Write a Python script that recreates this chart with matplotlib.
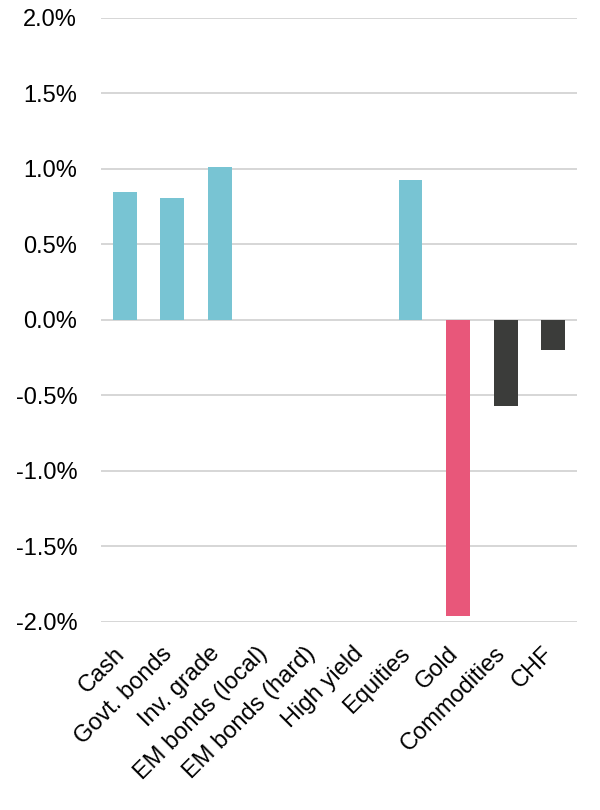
import numpy as np
from matplotlib import pyplot as plt
from matplotlib import transforms
from matplotlib.ticker import FuncFormatter

plt.rcParams['font.family'] = ['Liberation Sans', 'DejaVu Sans']

categories = ['Cash', 'Govt. bonds', 'Inv. grade', 'EM bonds (local)',
              'EM bonds (hard)', 'High yield', 'Equities', 'Gold',
              'Commodities', 'CHF']
values = [0.85, 0.81, 1.01, 0.0, 0.0, 0.0, 0.93, -1.96, -0.57, -0.20]
groups = ['pos', 'pos', 'pos', 'pos', 'pos', 'pos', 'pos', 'gold', 'neg', 'neg']
y_ticks = [-2.0, -1.5, -1.0, -0.5, 0.0, 0.5, 1.0, 1.5, 2.0]

colors = {'pos': '#78C4D3', 'gold': '#E8577A', 'neg': '#3B3C3A'}

fig = plt.figure(figsize=(6, 8.1), dpi=100)
ax = fig.add_axes([0.168, 0.2321, 0.794, 0.7457])

x = np.arange(len(categories))
ax.bar(x, values, width=0.5, color=[colors[g] for g in groups], zorder=3)

ax.set_xlim(-0.5, len(categories) - 0.5)
ax.set_ylim(-2.0, 2.0)
ax.set_yticks(y_ticks)
ax.yaxis.set_major_formatter(FuncFormatter(lambda v, p: f'{v:.1f}%'))
ax.grid(axis='y', color='#D3D3D3', linewidth=1.3, zorder=0)

ax.set_xticks(x)
ax.set_xticklabels(categories, rotation=45, ha='right', rotation_mode='anchor')

ax.tick_params(axis='both', length=0, labelsize=17)
ax.tick_params(axis='y', pad=17)
ax.tick_params(axis='x', pad=12)
for s in ax.spines.values():
    s.set_visible(False)

# nudge the slanted labels a little left, like the original
shift = transforms.ScaledTranslation(-0.11, -0.04, fig.dpi_scale_trans)
for lbl in ax.get_xticklabels():
    lbl.set_transform(lbl.get_transform() + shift)

fig.savefig('out.png', dpi=100)
